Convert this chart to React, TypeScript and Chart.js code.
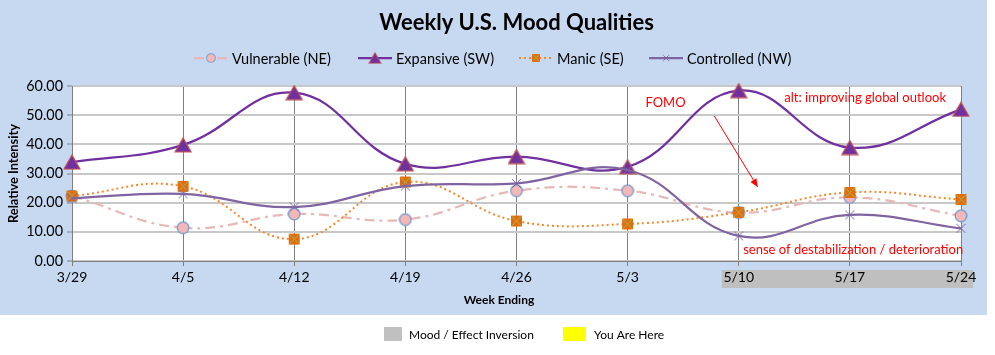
import React, { useEffect, useRef } from 'react';
import { Chart, registerables } from 'chart.js';

Chart.register(...registerables);

// ---- data ----
const weeks = ['3/29', '4/5', '4/12', '4/19', '4/26', '5/3', '5/10', '5/17', '5/24'];
const vulnerable = [22.3, 11.4, 16.1, 14.2, 24.1, 24.1, 16.6, 21.8, 15.5];
const expansive = [33.9, 39.8, 57.7, 33.3, 35.8, 32.3, 58.4, 38.9, 52.0];
const manic = [22.3, 25.6, 7.5, 27.1, 13.7, 12.7, 16.7, 23.5, 21.1];
const controlled = [21.5, 23.0, 18.5, 25.7, 26.6, 31.2, 8.6, 15.8, 11.2];
const yTicks = [0, 10, 20, 30, 40, 50, 60];
const seriesNames = ['Vulnerable (NE)', 'Expansive (SW)', 'Manic (SE)', 'Controlled (NW)'];
const inversionWeeks = ['5/10', '5/17', '5/24'];
const titleText = 'Weekly U.S. Mood Qualities';
const yTitle = 'Relative Intensity';
const xTitle = 'Week Ending';
const bottomLegend = ['Mood / Effect Inversion', 'You Are Here'];

// annotations in data coordinates (category index, value)
const notes = [
  { text: 'FOMO', x: 5.16, y: 54.3 },
  { text: 'alt: improving global outlook', x: 6.41, y: 56.0 },
  { text: 'sense of destabilization / deterioration', x: 6.04, y: 3.8 },
];
const arrow = { from: { x: 5.78, y: 49.7 }, to: { x: 6.17, y: 25.4 } };

const FONT = 'Lato, "Open Sans", sans-serif';

function mk(w: number, h: number, draw: (c: CanvasRenderingContext2D) => void) {
  const cv = document.createElement('canvas');
  cv.width = w;
  cv.height = h;
  const c = cv.getContext('2d')!;
  draw(c);
  return cv;
}

export default function App() {
  const ref = useRef<HTMLCanvasElement>(null);

  useEffect(() => {
    const triangle = mk(18, 16, (c) => {
      c.beginPath();
      c.moveTo(9, 1);
      c.lineTo(17, 15);
      c.lineTo(1, 15);
      c.closePath();
      c.fillStyle = '#7030A0';
      c.fill();
      c.strokeStyle = '#C0504D';
      c.lineWidth = 1.2;
      c.stroke();
    });
    const circle = mk(14, 14, (c) => {
      c.beginPath();
      c.arc(7, 7, 5.8, 0, Math.PI * 2);
      c.fillStyle = '#F2B7B6';
      c.fill();
      c.strokeStyle = '#7199CF';
      c.lineWidth = 1.3;
      c.stroke();
    });
    const square = mk(13, 13, (c) => {
      c.fillStyle = '#E46C0A';
      c.fillRect(1, 1, 11, 11);
      c.strokeStyle = '#9BBB59';
      c.lineWidth = 1;
      c.beginPath();
      c.moveTo(1.5, 1.5);
      c.lineTo(11.5, 11.5);
      c.moveTo(11.5, 1.5);
      c.lineTo(1.5, 11.5);
      c.stroke();
    });
    const cross = mk(11, 11, (c) => {
      c.strokeStyle = '#8064A2';
      c.lineWidth = 1;
      c.beginPath();
      c.moveTo(1, 1);
      c.lineTo(10, 10);
      c.moveTo(10, 1);
      c.lineTo(1, 10);
      c.stroke();
    });

    const decor = {
      id: 'decor',
      beforeDraw(chart: any) {
        const { ctx, chartArea: a, scales } = chart;
        const x = scales.x;
        ctx.save();
        ctx.fillStyle = '#FFFFFF';
        ctx.fillRect(0, 0, chart.width, chart.height);
        ctx.fillStyle = '#C6D9F1';
        ctx.fillRect(0, 0, 987, 315);
        ctx.fillStyle = '#FFFFFF';
        ctx.fillRect(a.left, a.top, a.right - a.left, a.bottom - a.top);
        // inversion band behind tick labels
        const i0 = weeks.indexOf(inversionWeeks[0]);
        const i1 = weeks.indexOf(inversionWeeks[inversionWeeks.length - 1]);
        const bl = x.getPixelForValue(i0) - 17;
        const br = x.getPixelForValue(i1) + 12;
        ctx.fillStyle = '#BFBFBF';
        ctx.fillRect(bl, a.bottom + 9, br - bl, 18);
        ctx.restore();
      },
      afterDraw(chart: any) {
        const { ctx, chartArea: a, scales } = chart;
        const x = scales.x;
        const y = scales.y;
        ctx.save();
        // title
        ctx.fillStyle = '#000';
        ctx.textAlign = 'center';
        ctx.textBaseline = 'middle';
        ctx.font = `bold 22px ${FONT}`;
        ctx.fillText(titleText, (a.left + a.right) / 2, 23);
        // x title
        ctx.font = `bold 12px ${FONT}`;
        ctx.fillText(xTitle, 499, a.bottom + 39);

        // top legend
        const ds = chart.data.datasets;
        const starts = [194, 358, 519, 649];
        const ly = 58;
        ctx.font = `14.5px ${FONT}`;
        ctx.textAlign = 'left';
        ds.forEach((d: any, i: number) => {
          const sx = starts[i];
          ctx.save();
          ctx.strokeStyle = d.borderColor;
          ctx.lineWidth = d.borderWidth;
          ctx.setLineDash(d.borderDash || []);
          ctx.beginPath();
          ctx.moveTo(sx, ly);
          ctx.lineTo(sx + 34, ly);
          ctx.stroke();
          ctx.restore();
          const img = d.pointStyle;
          const w = img.width * 0.75;
          const h = img.height * 0.75;
          ctx.drawImage(img, sx + 17 - w / 2, ly - h / 2, w, h);
          ctx.fillStyle = '#000';
          ctx.fillText(d.label, sx + 38, ly + 1);
        });

        // bottom legend
        ctx.fillStyle = '#C0C0C0';
        ctx.fillRect(384, 327, 18, 14);
        ctx.fillStyle = '#FFFF00';
        ctx.fillRect(563, 327, 23, 14);
        ctx.fillStyle = '#000';
        ctx.font = `12px ${FONT}`;
        ctx.fillText(bottomLegend[0], 409, 335);
        ctx.fillText(bottomLegend[1], 594, 335);

        // annotations
        ctx.fillStyle = '#FF0000';
        ctx.font = `13px ${FONT}`;
        notes.forEach((n) => {
          ctx.fillText(n.text, x.getPixelForValue(n.x), y.getPixelForValue(n.y));
        });
        // arrow
        const x1 = x.getPixelForValue(arrow.from.x);
        const y1 = y.getPixelForValue(arrow.from.y);
        const x2 = x.getPixelForValue(arrow.to.x);
        const y2 = y.getPixelForValue(arrow.to.y);
        ctx.strokeStyle = '#FF0000';
        ctx.lineWidth = 1;
        ctx.beginPath();
        ctx.moveTo(x1, y1);
        ctx.lineTo(x2, y2);
        ctx.stroke();
        const ang = Math.atan2(y2 - y1, x2 - x1);
        ctx.beginPath();
        ctx.moveTo(x2, y2);
        ctx.lineTo(x2 - 8 * Math.cos(ang) + 3.5 * Math.sin(ang), y2 - 8 * Math.sin(ang) - 3.5 * Math.cos(ang));
        ctx.lineTo(x2 - 8 * Math.cos(ang) - 3.5 * Math.sin(ang), y2 - 8 * Math.sin(ang) + 3.5 * Math.cos(ang));
        ctx.closePath();
        ctx.fillStyle = '#FF0000';
        ctx.fill();
        ctx.restore();
      },
    };

    const common = { pointRadius: 6, pointHoverRadius: 6, clip: false as any, tension: 0.42, fill: false };

    const chart = new Chart(ref.current!, {
      type: 'line',
      data: {
        labels: weeks,
        datasets: [
          {
            ...common,
            label: seriesNames[0],
            data: vulnerable,
            borderColor: '#E6B9B8',
            borderWidth: 2.25,
            borderDash: [10, 5, 3, 5],
            pointStyle: circle as any,
            order: 4,
          },
          {
            ...common,
            label: seriesNames[1],
            data: expansive,
            borderColor: '#7030A0',
            borderWidth: 2.25,
            pointStyle: triangle as any,
            order: 3,
          },
          {
            ...common,
            label: seriesNames[2],
            data: manic,
            borderColor: '#F7862A',
            borderWidth: 2,
            borderDash: [2, 3],
            pointStyle: square as any,
            order: 2,
          },
          {
            ...common,
            label: seriesNames[3],
            data: controlled,
            borderColor: '#8064A2',
            borderWidth: 2.25,
            pointStyle: cross as any,
            order: 1,
          },
        ],
      },
      options: {
        responsive: false,
        animation: false,
        events: [],
        layout: { padding: { top: 86, right: 34, bottom: 0, left: 0 } },
        plugins: { legend: { display: false }, title: { display: false }, tooltip: { enabled: false } },
        scales: {
          x: {
            type: 'category',
            offset: false,
            grid: { color: '#808080', lineWidth: 1, tickLength: 5, drawTicks: true },
            border: { color: '#808080', width: 1 },
            ticks: { color: '#000', font: { family: FONT, size: 14 }, padding: 3, maxRotation: 0, autoSkip: false },
            afterFit: (s: any) => {
              s.height = 94;
            },
          },
          y: {
            min: yTicks[0],
            max: yTicks[yTicks.length - 1],
            afterBuildTicks: (s: any) => {
              s.ticks = yTicks.map((v) => ({ value: v }));
            },
            grid: { color: '#C8C8C8', lineWidth: 2, tickLength: 5, tickColor: '#808080', tickWidth: 1 },
            border: { color: '#808080', width: 1 },
            ticks: {
              color: '#000',
              font: { family: FONT, size: 14.4 },
              padding: 4,
              callback: (v: any) => Number(v).toFixed(2),
            },
            title: {
              display: true,
              text: yTitle,
              color: '#000',
              font: { family: FONT, size: 12.8, weight: 'bold' },
              padding: { top: 6, bottom: 0 },
            },
            afterFit: (s: any) => {
              s.width = 72;
            },
          },
        },
      },
      plugins: [decor],
    });
    return () => chart.destroy();
  }, []);

  return (
    <div style={{ position: 'absolute', left: 0, top: 0, width: 995, height: 355 }}>
      <canvas ref={ref} width={995} height={355} />
    </div>
  );
}
